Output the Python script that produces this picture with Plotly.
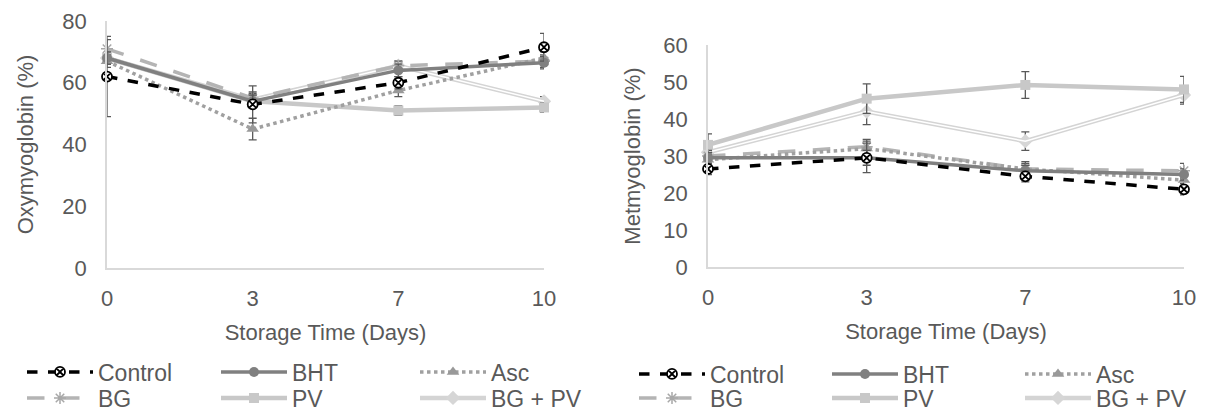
import plotly.graph_objects as go

days = ['0', '3', '7', '10']
series_names = ['Control', 'BHT', 'Asc', 'BG', 'PV', 'BG + PV']

# Oxymyoglobin (%)
oxy_control = [62, 53, 60, 71.5]
oxy_bht = [68, 54, 64, 66.5]
oxy_asc = [67, 45, 57.5, 68]
oxy_bg = [71, 55, 65.5, 67]
oxy_pv = [68, 54, 51, 52]
oxy_bgpv = [68, 54.5, 65.5, 54]
oxy_control_err = [13, 6, 2, 4.5]
oxy_bht_err = [2, 2, 2, 2]
oxy_asc_err = [2, 3.5, 2, 2]
oxy_bg_err = [3, 2, 1.5, 2]
oxy_pv_err = [2, 2, 1.5, 1.5]
oxy_bgpv_err = [2, 2, 1.5, 1.5]

# Metmyoglobin (%)
met_control = [26.5, 29.5, 24.5, 21]
met_bht = [29.5, 29.5, 26, 25]
met_asc = [29, 32, 26.5, 23.5]
met_bg = [30, 32.5, 26.5, 26]
met_pv = [33, 45.5, 49.2, 48]
met_bgpv = [31, 42, 34, 46.5]
met_control_err = [1.5, 4, 1.5, 1.5]
met_bht_err = [1.5, 2, 1.5, 1.5]
met_asc_err = [1.5, 2, 1.5, 1.5]
met_bg_err = [1.5, 2, 2, 2]
met_pv_err = [3, 4, 3.6, 3.5]
met_bgpv_err = [2, 3.5, 2.5, 2.5]

FONT = "Liberation Sans, Arial, sans-serif"
TXT = "#595959"
ERR = "#595959"
FS = 22
LFS = 23

styles = {
    'Control': dict(line=dict(color='black', width=3.5, dash='dash'),
                    marker=dict(symbol='circle-x', size=10, color='white',
                                line=dict(color='black', width=1.8))),
    'BHT': dict(line=dict(color='#808080', width=3.5),
                marker=dict(symbol='circle', size=10, color='#808080')),
    'Asc': dict(line=dict(color='#a0a0a0', width=3.5, dash='dot'),
                marker=dict(symbol='triangle-up', size=11, color='#999999')),
    'BG': dict(line=dict(color='#b4b4b4', width=3.5, dash='longdash'),
               marker=dict(symbol='asterisk-open', size=10, color='#a8a8a8',
                           line=dict(color='#a8a8a8', width=1.5))),
    'PV': dict(line=dict(color='#c8c8c8', width=4.5),
               marker=dict(symbol='square', size=10, color='#c8c8c8')),
    'BG + PV': dict(line=dict(color='#d4d4d4', width=4.5),
                    marker=dict(symbol='diamond', size=11, color='#d6d6d6')),
}

# The page body has an 8px margin, so the figure is 16px smaller than the
# window and every pixel position below is measured from the figure corner.
W, H = 1199, 404

def px_x(p):
    return p / W

def px_y(p):
    return 1 - p / H

# legend grid: column / row of each series
col_of = {'Control': 0, 'BG': 0, 'BHT': 1, 'PV': 1, 'Asc': 2, 'BG + PV': 2}
row_of = {'Control': 0, 'BHT': 0, 'Asc': 0, 'BG': 1, 'PV': 1, 'BG + PV': 1}
left_cols = [14, 208, 407]
left_rows = [364, 390]
right_cols = [626, 819, 1012]
right_rows = [366, 390]

fig = go.Figure()
legend_layouts = {}
legend_counter = [0]

def make_legend(xpx, ypx):
    return dict(orientation='v', x=px_x(xpx), xanchor='left', y=px_y(ypx), yanchor='middle',
                traceorder='normal', font=dict(size=LFS, color=TXT, family=FONT),
                bgcolor='rgba(0,0,0,0)', tracegroupgap=0, itemwidth=66, borderwidth=0)

def add_chart(vals, errs, xa, ya, cols, rows):
    order = ['BG + PV', 'PV', 'BG', 'Asc', 'BHT', 'Control']
    for name in order:
        st = styles[name]
        legend_counter[0] += 1
        lid = 'legend' if legend_counter[0] == 1 else 'legend%d' % legend_counter[0]
        legend_layouts[lid] = make_legend(cols[col_of[name]], rows[row_of[name]])
        fig.add_trace(go.Scatter(
            x=days, y=vals[name], name=name, mode='lines+markers',
            xaxis=xa, yaxis=ya, legend=lid,
            line=st['line'], marker=st['marker'], cliponaxis=False,
            error_y=dict(type='data', array=errs[name], color=ERR,
                         thickness=1.3, width=4),
        ))
        if name == 'BG + PV':
            fig.add_trace(go.Scatter(
                x=days, y=vals[name], mode='lines', showlegend=False,
                xaxis=xa, yaxis=ya, line=dict(color='white', width=1.5),
                hoverinfo='skip'))

add_chart({'Control': oxy_control, 'BHT': oxy_bht, 'Asc': oxy_asc,
           'BG': oxy_bg, 'PV': oxy_pv, 'BG + PV': oxy_bgpv},
          {'Control': oxy_control_err, 'BHT': oxy_bht_err, 'Asc': oxy_asc_err,
           'BG': oxy_bg_err, 'PV': oxy_pv_err, 'BG + PV': oxy_bgpv_err},
          'x', 'y', left_cols, left_rows)
add_chart({'Control': met_control, 'BHT': met_bht, 'Asc': met_asc,
           'BG': met_bg, 'PV': met_pv, 'BG + PV': met_bgpv},
          {'Control': met_control_err, 'BHT': met_bht_err, 'Asc': met_asc_err,
           'BG': met_bg_err, 'PV': met_pv_err, 'BG + PV': met_bgpv_err},
          'x2', 'y2', right_cols, right_rows)

tfont = dict(size=FS, color=TXT, family=FONT)
xcommon = dict(type='category', categoryorder='array', categoryarray=days,
               range=[0, 3], showline=True, linecolor='#d9d9d9', linewidth=1.5,
               showgrid=False, zeroline=False, ticks='outside', ticklen=10,
               tickcolor='rgba(0,0,0,0)', tickfont=tfont, automargin=False,
               title=dict(text='Storage Time (Days)', font=tfont, standoff=14))
ycommon = dict(showline=True, linecolor='#d9d9d9', linewidth=1.5, showgrid=False,
               zeroline=False, ticks='outside', ticklen=14, tickcolor='rgba(0,0,0,0)',
               tickfont=tfont, automargin=False)

fig.update_layout(
    width=W, height=H, margin=dict(l=0, r=0, t=0, b=0, autoexpand=False),
    paper_bgcolor='white', plot_bgcolor='white',
    font=dict(family=FONT, color=TXT, size=FS),
    xaxis=dict(xcommon, domain=[px_x(99), px_x(536)], anchor='y'),
    yaxis=dict(ycommon, domain=[px_y(260), px_y(13)], anchor='x', range=[0, 80],
               dtick=20, title=dict(text='Oxymyoglobin (%)', font=tfont, standoff=23)),
    xaxis2=dict(xcommon, domain=[px_x(700), px_x(1176)], anchor='y2'),
    yaxis2=dict(ycommon, domain=[px_y(259), px_y(37)], anchor='x2', range=[0, 60],
                dtick=10, title=dict(text='Metmyoglobin (%)', font=tfont, standoff=17)),
    **legend_layouts,
)

fig.write_html("out.html")
